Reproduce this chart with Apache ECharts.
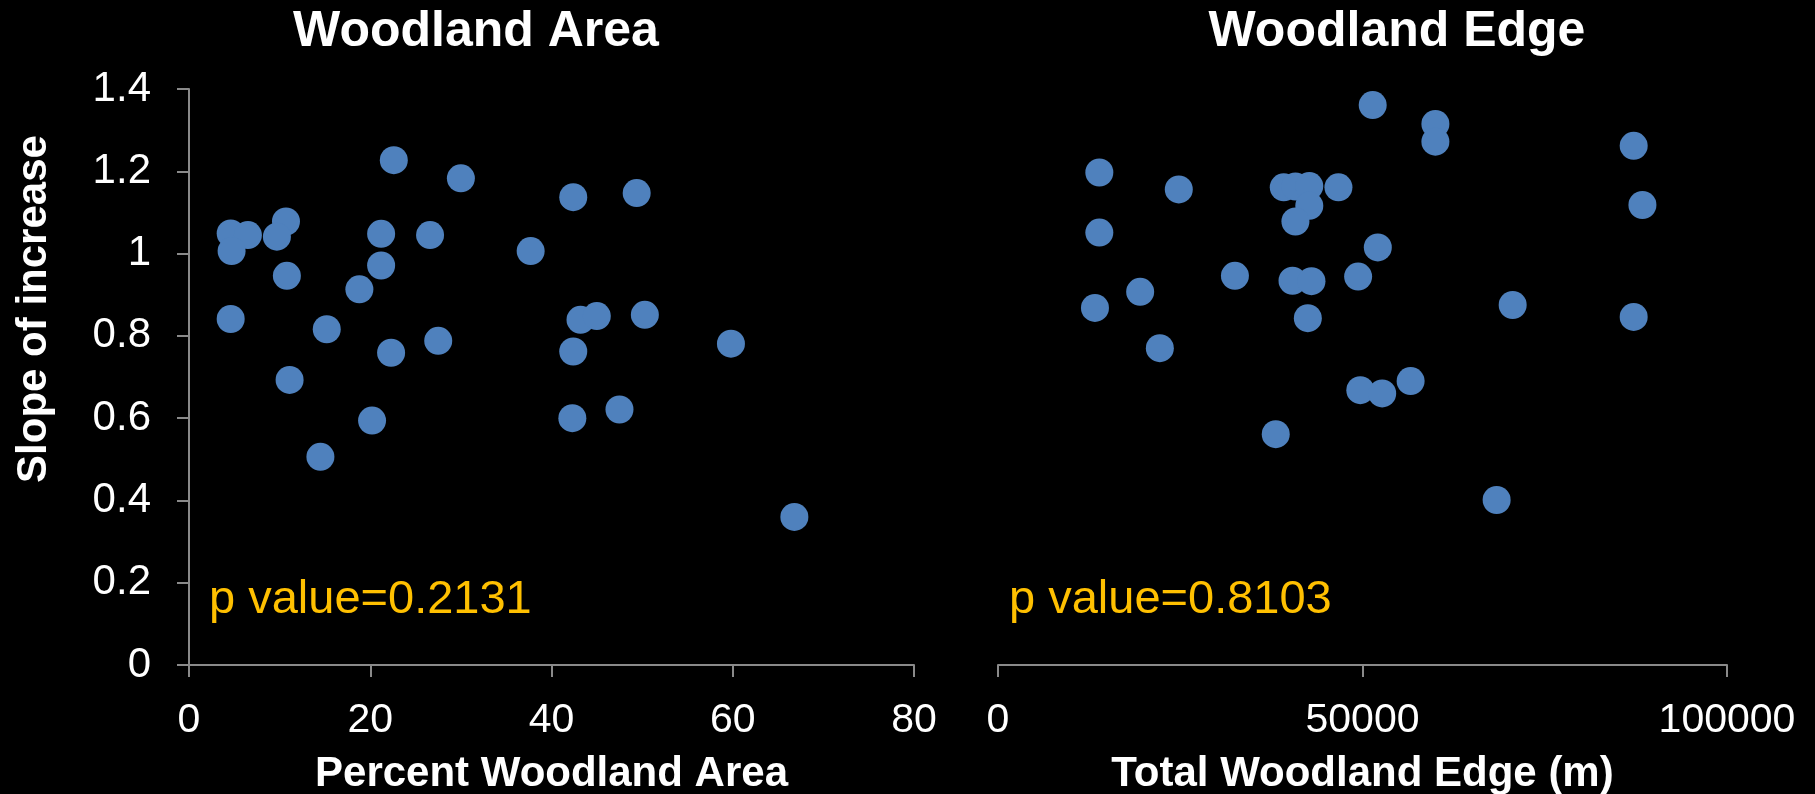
<!DOCTYPE html>
<html>
<head>
<meta charset="utf-8">
<title>Woodland Area / Woodland Edge</title>
<script src="https://cdn.jsdelivr.net/npm/echarts@6/dist/echarts.min.js"></script>
<style>
  html, body {
    margin: 0;
    padding: 0;
    background: #000;
  }
  #chart {
    width: 1815px;
    height: 794px;
  }
</style>
</head>
<body>
<div id="chart"></div>
<script>
// 数据: Woodland Area
const areaPercent = [4.6, 6.5, 4.7, 10.7, 9.7, 10.8, 4.6, 15.2, 11.1, 18.8, 21.2, 21.2, 22.6, 26.6, 30.0,
  22.3, 27.5, 20.2, 14.5, 42.4, 49.4, 37.7, 43.2, 45.0, 50.3, 59.8, 42.4, 42.3, 47.5, 66.8]
const areaSlope = [1.049, 1.045, 1.006, 1.078, 1.041, 0.946, 0.841, 0.816, 0.693, 0.913, 1.048, 0.971, 1.227, 1.045, 1.183,
  0.759, 0.788, 0.594, 0.506, 1.137, 1.147, 1.006, 0.839, 0.848, 0.851, 0.781, 0.762, 0.600, 0.621, 0.360]

// 数据: Woodland Edge
const edgeLength = [51400, 60000, 60000, 13900, 24800, 39200, 40800, 42700, 46700, 42700, 40800, 13900, 52100, 32500, 40400,
  43000, 49400, 19500, 13300, 42500, 22200, 49700, 52700, 56600, 38100, 87200, 88400, 70600, 87200, 68400]
const edgeSlope = [1.361, 1.315, 1.272, 1.197, 1.156, 1.161, 1.163, 1.164, 1.161, 1.116, 1.078, 1.051, 1.015, 0.946, 0.934,
  0.933, 0.944, 0.907, 0.868, 0.843, 0.770, 0.668, 0.660, 0.690, 0.561, 1.262, 1.118, 0.875, 0.846, 0.401]

const titles = ['Woodland Area', 'Woodland Edge']
const pValues = ['p value=0.2131', 'p value=0.8103']

const axisGray = '#8a8a8a'
const dotBlue = '#4f81bd'
const font = 'Liberation Sans, Arial, sans-serif'

const chart = echarts.init(document.getElementById('chart'))

const axisLineStyle = { show: true, lineStyle: { color: axisGray, width: 2 } }
const axisTickStyle = { show: true, inside: false, length: 12, lineStyle: { color: axisGray, width: 2 } }
const plainNumber = (v) => String(v)

/**
 * 标题
 */
const titleText = (text, x) => ({
  type: 'text',
  x: x,
  y: 32,
  style: {
    text: text,
    fill: '#fff',
    font: 'bold 50px ' + font,
    textAlign: 'center',
    textVerticalAlign: 'middle'
  }
})

// p value 文本
const pText = (text, x) => ({
  type: 'text',
  x: x,
  y: 600,
  style: {
    text: text,
    fill: '#ffc000',
    font: '47px ' + font,
    textAlign: 'left',
    textVerticalAlign: 'middle'
  }
})

const xAxisBase = (gridIndex, max, interval, name) => ({
  gridIndex: gridIndex,
  type: 'value',
  min: 0,
  max: max,
  interval: interval,
  name: name,
  nameLocation: 'middle',
  nameGap: 88,
  nameTextStyle: { color: '#fff', fontSize: 42, fontWeight: 'bold', fontFamily: font },
  axisLine: axisLineStyle,
  axisTick: axisTickStyle,
  splitLine: { show: false },
  axisLabel: { color: '#fff', fontSize: 41, fontFamily: font, margin: 35, formatter: plainNumber }
})

const option = {
  backgroundColor: '#000',
  animation: false,
  graphic: [
    titleText(titles[0], 476),
    titleText(titles[1], 1397),
    pText(pValues[0], 209),
    pText(pValues[1], 1009)
  ],
  grid: [
    { left: 189, top: 89, width: 725, height: 576, containLabel: false, outerBoundsMode: 'none' },
    { left: 998, top: 89, width: 729, height: 576, containLabel: false, outerBoundsMode: 'none' }
  ],
  xAxis: [
    xAxisBase(0, 80, 20, 'Percent Woodland Area'),
    xAxisBase(1, 100000, 50000, 'Total Woodland Edge (m)')
  ],
  yAxis: [
    {
      gridIndex: 0,
      type: 'value',
      min: 0,
      max: 1.4,
      interval: 0.2,
      name: 'Slope of increase',
      nameLocation: 'middle',
      nameGap: 134,
      nameRotate: 90,
      nameTextStyle: {
        color: '#fff', fontSize: 42, fontWeight: 'bold', fontFamily: font,
        padding: [0, 0, 0, 136]
      },
      axisLine: axisLineStyle,
      axisTick: axisTickStyle,
      splitLine: { show: false },
      axisLabel: { color: '#fff', fontSize: 42, fontFamily: font, margin: 38 }
    },
    {
      gridIndex: 1,
      type: 'value',
      min: 0,
      max: 1.4,
      interval: 0.2,
      show: false
    }
  ],
  series: [
    {
      type: 'scatter',
      xAxisIndex: 0,
      yAxisIndex: 0,
      symbolSize: 28,
      itemStyle: { color: dotBlue, opacity: 1 },
      data: areaPercent.map((x, i) => [x, areaSlope[i]])
    },
    {
      type: 'scatter',
      xAxisIndex: 1,
      yAxisIndex: 1,
      symbolSize: 28,
      itemStyle: { color: dotBlue, opacity: 1 },
      data: edgeLength.map((x, i) => [x, edgeSlope[i]])
    }
  ]
}

chart.setOption(option)
</script>
</body>
</html>
